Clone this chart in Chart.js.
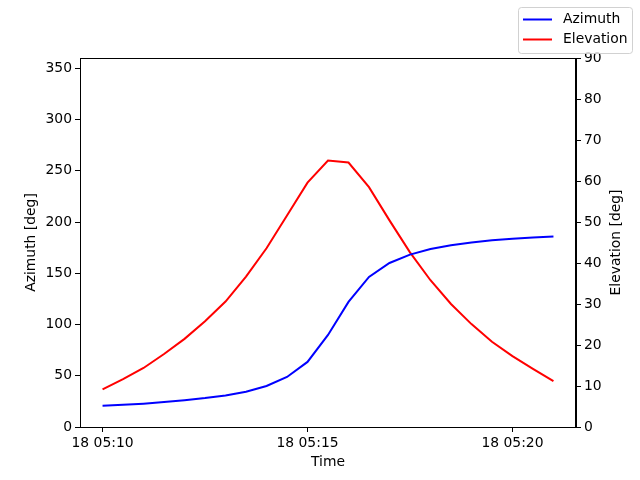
<!DOCTYPE html>
<html>
<head>
<meta charset="utf-8">
<script src="https://cdn.jsdelivr.net/npm/chart.js@4/dist/chart.umd.min.js"></script>
<style>
html,body{margin:0;padding:0;background:#fff;}
#wrap{width:640px;height:480px;position:relative;}
</style>
</head>
<body>
<div id="wrap"><canvas id="c" width="640" height="480"></canvas></div>
<script>
// time in minutes after 05:00 on day 18
const times = [10,10.5,11,11.5,12,12.5,13,13.5,14,14.5,15,15.5,16,16.5,17,17.5,18,18.5,19,19.5,20,20.5,21];
const azimuth = [20.7,21.6,22.8,24.4,26.2,28.2,30.8,34.4,40.0,48.8,63.5,89.8,122.0,146.4,160.0,168.2,173.7,177.3,179.9,182.1,183.6,184.8,185.8];
const elevation = [9.2,11.7,14.4,17.8,21.5,25.8,30.6,36.7,43.6,51.6,59.6,65.0,64.5,58.5,50.4,42.6,35.8,30.0,25.1,20.8,17.3,14.2,11.2];
const xTicks = [10,15,20];
const xTickLabels = ['18 05:10','18 05:15','18 05:20'];
const azTicks = [0,50,100,150,200,250,300,350];
const elTicks = [0,10,20,30,40,50,60,70,80,90];
const xTitle = 'Time';
const azTitle = 'Azimuth [deg]';
const elTitle = 'Elevation [deg]';

const FONT = {family:'"DejaVu Sans", sans-serif', size:13.9};
const FONTSTR = '13.9px "DejaVu Sans", sans-serif';

const frame = {
  id:'frame',
  afterDraw(chart){
    const {ctx, chartArea:a} = chart;
    ctx.save();
    ctx.strokeStyle='#000'; ctx.lineWidth=1;
    ctx.strokeRect(Math.round(a.left)+0.5, Math.round(a.top)+0.5, Math.round(a.right-a.left)-1, Math.round(a.bottom-a.top));
    // axis titles
    ctx.fillStyle='#000';
    ctx.font=FONTSTR;
    ctx.textAlign='center'; ctx.textBaseline='middle';
    ctx.fillText(xTitle, (a.left+a.right)/2, 462);
    const cy=(a.top+a.bottom)/2;
    ctx.save(); ctx.translate(31, cy); ctx.rotate(-Math.PI/2); ctx.fillText(azTitle,0,0); ctx.restore();
    ctx.save(); ctx.translate(616, cy); ctx.rotate(-Math.PI/2); ctx.fillText(elTitle,0,0); ctx.restore();
    // legend
    const x0=518.5, y0=7.5, w=114, h=46;
    ctx.fillStyle='rgba(255,255,255,0.8)';
    ctx.strokeStyle='rgba(204,204,204,0.9)';
    ctx.lineWidth=1;
    ctx.beginPath();
    if (ctx.roundRect) ctx.roundRect(x0,y0,w,h,3); else ctx.rect(x0,y0,w,h);
    ctx.fill(); ctx.stroke();
    ctx.textAlign='left';
    chart.data.datasets.forEach((ds,i)=>{
      const yy = 19.5 + i*20;
      ctx.strokeStyle=ds.borderColor; ctx.lineWidth=2;
      ctx.beginPath(); ctx.moveTo(523,yy); ctx.lineTo(552,yy); ctx.stroke();
      ctx.fillStyle='#000';
      ctx.fillText(ds.label, 563, yy);
    });
    ctx.restore();
  }
};

new Chart(document.getElementById('c'), {
  type:'line',
  data:{
    datasets:[
      {label:'Azimuth', data:times.map((t,i)=>({x:t,y:azimuth[i]})), borderColor:'#0000ff', backgroundColor:'#0000ff', borderWidth:2, pointRadius:0, tension:0, yAxisID:'yA'},
      {label:'Elevation', data:times.map((t,i)=>({x:t,y:elevation[i]})), borderColor:'#ff0000', backgroundColor:'#ff0000', borderWidth:2, pointRadius:0, tension:0, yAxisID:'yE'}
    ]
  },
  options:{
    responsive:false, animation:false,
    layout:{padding:{top:58,left:0,right:0,bottom:0}},
    plugins:{legend:{display:false}, tooltip:{enabled:false}},
    scales:{
      x:{
        type:'linear', min:9.45, max:21.55,
        afterBuildTicks(s){ s.ticks = xTicks.map(v=>({value:v})); },
        afterFit(s){ s.height = 53; },
        ticks:{color:'#000', font:FONT, maxRotation:0, autoSkip:false, padding:3,
          callback:(v)=>{const i=xTicks.indexOf(v); return i>=0?xTickLabels[i]:'';}},
        grid:{drawOnChartArea:false, drawTicks:true, tickLength:5, color:'#000'},
        border:{display:true, color:'#000'}
      },
      yA:{
        type:'linear', position:'left', min:0, max:360,
        afterBuildTicks(s){ s.ticks = azTicks.map(v=>({value:v})); },
        afterFit(s){ s.width = 80; },
        ticks:{color:'#000', font:FONT, padding:3},
        grid:{drawOnChartArea:false, drawTicks:true, tickLength:5, color:'#000'},
        border:{display:true, color:'#000'}
      },
      yE:{
        type:'linear', position:'right', min:0, max:90,
        afterBuildTicks(s){ s.ticks = elTicks.map(v=>({value:v})); },
        afterFit(s){ s.width = 64; },
        ticks:{color:'#000', font:FONT, padding:3},
        grid:{drawOnChartArea:false, drawTicks:true, tickLength:5, color:'#000'},
        border:{display:true, color:'#000'}
      }
    }
  },
  plugins:[frame]
});
</script>
</body>
</html>
